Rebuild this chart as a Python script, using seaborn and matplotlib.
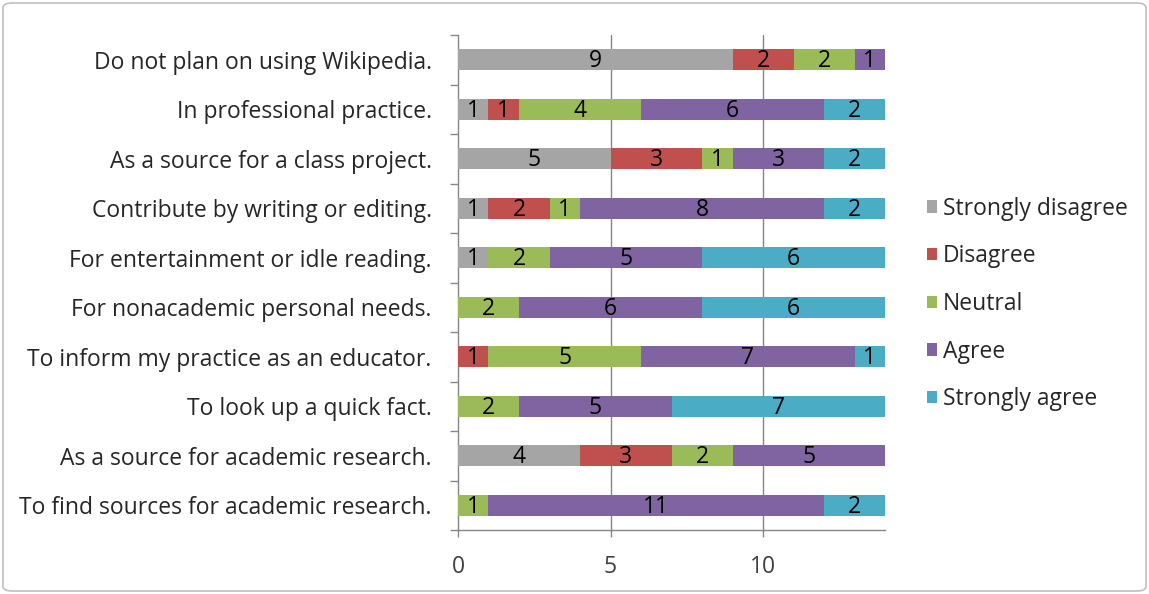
import matplotlib
matplotlib.use("Agg")
import matplotlib.pyplot as plt
import seaborn as sns
import numpy as np
import pandas as pd
from matplotlib.patches import Patch, FancyBboxPatch

categories = [
    "Do not plan on using Wikipedia.",
    "In professional practice.",
    "As a source for a class project.",
    "Contribute by writing or editing.",
    "For entertainment or idle reading.",
    "For nonacademic personal needs.",
    "To inform my practice as an educator.",
    "To look up a quick fact.",
    "As a source for academic research.",
    "To find sources for academic research.",
]
series_names = ["Strongly disagree", "Disagree", "Neutral", "Agree", "Strongly agree"]
strongly_disagree = [9, 1, 5, 1, 1, 0, 0, 0, 4, 0]
disagree = [2, 1, 3, 2, 0, 0, 1, 0, 3, 0]
neutral = [2, 4, 1, 1, 2, 2, 5, 2, 2, 1]
agree = [1, 6, 3, 8, 5, 6, 7, 5, 5, 11]
strongly_agree = [0, 2, 2, 2, 6, 6, 1, 7, 0, 2]
colors = ["#A5A5A5", "#C0504D", "#9BBB59", "#8064A2", "#4BACC6"]
x_ticks = [0, 5, 10]

sns.set_theme(style="white")
plt.rcParams['font.family'] = ['Open Sans', 'DejaVu Sans']
FS = 16.5

series = [strongly_disagree, disagree, neutral, agree, strongly_agree]
vals = np.array(series, dtype=float)
cum = np.cumsum(vals, axis=0)

fig = plt.figure(figsize=(11.49, 5.94), dpi=100)
ax = fig.add_axes([458/1149, 1-530/594, (885-458)/1149, (530-35)/594])

# draw cumulative totals from the largest to smallest so each segment shows
for i in range(len(series) - 1, -1, -1):
    df = pd.DataFrame({"cat": categories, "val": cum[i]})
    sns.barplot(data=df, x="val", y="cat", orient="y", color=colors[i],
                saturation=1, width=0.42, ax=ax, linewidth=0, zorder=3)

# data labels
for i in range(len(series)):
    for j, c in enumerate(categories):
        v = vals[i, j]
        if v > 0:
            center = cum[i, j] - v / 2
            ax.text(center, j + 0.03, f"{int(v)}", ha="center", va="center",
                    fontsize=FS, color="black", zorder=5)

ax.set_xlim(0, 14)
ax.set_ylim(len(categories) - 0.5, -0.5)
ax.set_xlabel("")
ax.set_ylabel("")
ax.set_xticks(x_ticks)
ax.set_xticklabels([str(t) for t in x_ticks], fontsize=FS, color="#404040")
ax.tick_params(axis="x", length=5, width=1, color="#868686", pad=13, direction="out", bottom=True)
ax.set_yticks(range(len(categories)))
ax.set_yticklabels(categories, fontsize=FS, color="#262626")
ax.tick_params(axis="y", length=0, pad=19)
ax.set_yticks(np.arange(-0.5, len(categories)), minor=True)
ax.tick_params(axis="y", which="minor", length=6, width=1, color="#868686", left=True)

for x in x_ticks[1:]:
    ax.axvline(x, color="#868686", linewidth=1, zorder=1)

for s in ["top", "right"]:
    ax.spines[s].set_visible(False)
for s in ["left", "bottom"]:
    ax.spines[s].set_visible(True)
    ax.spines[s].set_color("#868686")
    ax.spines[s].set_linewidth(1)

handles = [Patch(facecolor=colors[i], edgecolor="none", label=series_names[i]) for i in range(len(series))]
fig.legend(handles=handles, loc="center left", bbox_to_anchor=(906/1149, 1-304/594),
           frameon=False, fontsize=FS, handlelength=0.45, handleheight=0.45,
           handletextpad=0.25, labelspacing=1.03, labelcolor="#262626")

border = FancyBboxPatch((3/1149, 3/594), 1143/1149, 588/594,
                        boxstyle="round,pad=0,rounding_size=0.008",
                        transform=fig.transFigure, fill=False,
                        edgecolor="#BFBFBF", linewidth=1.2)
fig.patches.append(border)

fig.savefig("out.png", dpi=100)
